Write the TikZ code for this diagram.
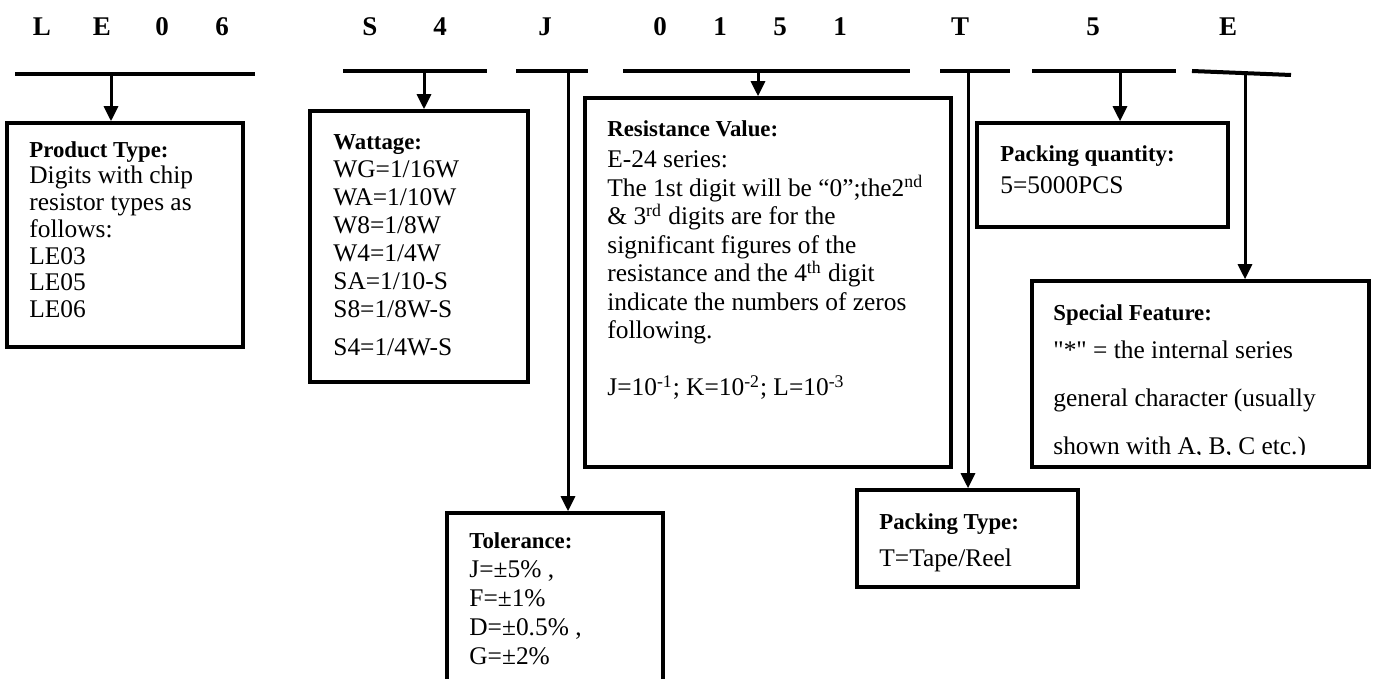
\documentclass[tikz,border=0pt]{standalone}
\usepackage{fontspec}
\setmainfont{Liberation Serif}
\newfontfamily\qtfont[Ligatures=ResetAll]{Liberation Serif}
\usetikzlibrary{arrows.meta}
\usetikzlibrary{fit}

\tikzset{
  box/.style={draw, line width=1.8pt, inner sep=0pt},
  txt/.style={anchor=north west, inner sep=0pt, align=left, font=\fontsize{12.7}{#1}\selectfont},
  txt/.default=14pt,
  bar/.style={line width=2pt},
  arr/.style={line width=1.5pt, -{Triangle[length=7.5pt,width=7pt]}},
  code/.style={anchor=base, inner sep=0pt, font=\fontsize{13.5}{13.5}\selectfont\bfseries}
}
\newcommand{\ttl}[1]{{\fontsize{11.4}{11.4}\selectfont\bfseries #1}}

\begin{document}
\begin{tikzpicture}[x=0.5pt, y=-0.5pt]
  \useasboundingbox (0,0) rectangle (1373,679);
  \fill[white] (0,0) rectangle (1373,679);
  \clip (0,0) rectangle (1373,679);

  % part number
  \foreach \ch/\x [count=\i] in {L/42, E/102, 0/162, 6/222, S/370, 4/440, J/545, 0/660,
      1/720, 5/780, 1/840, T/960, 5/1093, E/1228}
    \node[code] (c\i) at (\x,36) {\ch};

  % bars under the groups
  \draw[bar] (15,74) -- (255,74);
  \foreach \a/\b in {343/487, 516/588, 623/910, 940/1010, 1032/1176}
    \draw[bar] (\a,71) -- (\b,71);
  \draw[bar] (1192,71) -- (1291,75);

  \coordinate (s1) at (111,74);
  \coordinate (s2) at (424,71);
  \coordinate (s3) at (568,71);
  \coordinate (s4) at (758,71);
  \coordinate (s5) at (968,71);
  \coordinate (s6) at (1120,71);
  \coordinate (s7) at (1245,73);

  % boxes
  \node[box, fit={(7,123) (243,347)}] (ptype) {};
  \node[box, fit={(310,111) (528,382)}] (watt) {};
  \node[box, fit={(447,513) (663,700)}] (tol) {};
  \node[box, fit={(585,98) (951,467)}] (resv) {};
  \node[box, fit={(857,490) (1078,587)}] (packt) {};
  \node[box, fit={(977,123) (1228,227)}] (packq) {};
  \node[box, fit={(1032,281) (1369,467)}] (spec) {};

  % connectors
  \draw[arr] (s1) -- (s1 |- ptype.north);
  \draw[arr] (s2) -- (s2 |- watt.north);
  \draw[arr] (s3) -- (s3 |- tol.north);
  \draw[arr] (s4) -- (s4 |- resv.north);
  \draw[arr] (s5) -- (s5 |- packt.north);
  \draw[arr] (s6) -- (s6 |- packq.north);
  \draw[arr] (s7) -- (s7 |- spec.north);

  % texts
  \node[txt=13.35pt] (ptype-t) at (29,141) {\ttl{Product Type:}\\Digits with chip\\resistor types as\\follows:\\LE03\\LE05\\LE06};
  \node[txt=14pt] (watt-t) at (333,134) {\ttl{Wattage:}\\WG=1/16W\\WA=1/10W\\W8=1/8W\\W4=1/4W\\SA=1/10-S\\S8=1/8W-S\\[5pt]S4=1/4W-S};
  \node[txt=14.25pt] (resv-t) at (607,120) {\ttl{Resistance Value:}\\[1.5pt]E-24 series:\\The 1st digit will be “0”;the2\textsuperscript{nd}\\\& 3\textsuperscript{rd} digits are for the\\significant figures of the\\resistance and the 4\textsuperscript{th} digit\\indicate the numbers of zeros\\following.\\[14.25pt]J=10\textsuperscript{-1}; K=10\textsuperscript{-2}; L=10\textsuperscript{-3}};
  \node[txt=14.5pt] (tol-t) at (469,532) {\ttl{Tolerance:}\\J=±5\% ,\\F=±1\%\\D=±0.5\% ,\\G=±2\%};
  \node[txt=16pt] (packq-t) at (1000,145) {\ttl{Packing quantity:}\\5=5000PCS};
  \node[txt=18.5pt] (packt-t) at (879,513) {\ttl{Packing Type:}\\T=Tape/Reel};
  \begin{scope}
    \clip (1032,281) rectangle (1369,455);
    \node[txt=24pt] (spec-t) at (1053,304) {\ttl{Special Feature:}\\[-5pt]{\qtfont "*"} = the internal series\\general character (usually\\shown with A, B, C etc.)};
  \end{scope}
\end{tikzpicture}
\end{document}
